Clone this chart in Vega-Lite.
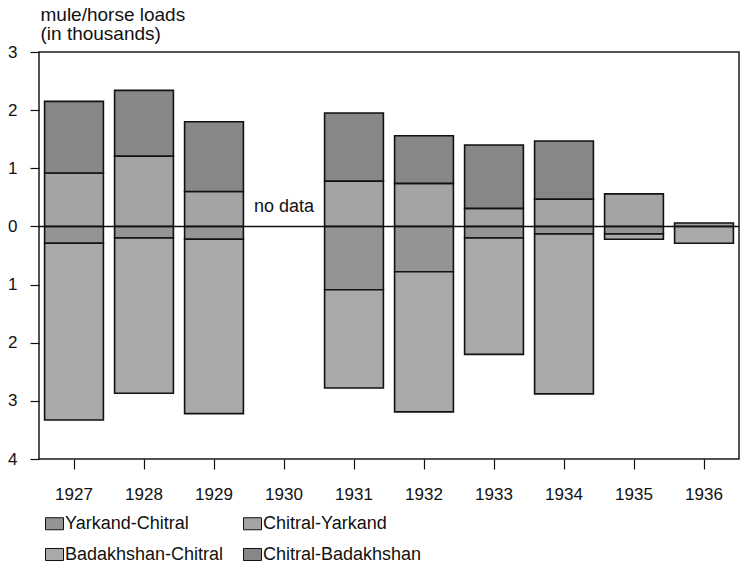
{
  "$schema": "https://vega.github.io/schema/vega-lite/v6.json",
  "width": 700,
  "height": 407,
  "autosize": {"type": "none"},
  "padding": {"left": 39, "top": 52, "right": 2, "bottom": 109},
  "background": "white",
  "config": {
    "font": "Liberation Sans",
    "view": {"stroke": "#1a1a1a", "strokeWidth": 1.5}
  },
  "layer": [
    {
      "data": {
        "values": [
          {"year": "1927", "route": "Chitral-Yarkand", "loads": 0.92},
          {"year": "1927", "route": "Chitral-Badakhshan", "loads": 1.23},
          {"year": "1927", "route": "Yarkand-Chitral", "loads": -0.29},
          {"year": "1927", "route": "Badakhshan-Chitral", "loads": -3.04},
          {"year": "1928", "route": "Chitral-Yarkand", "loads": 1.21},
          {"year": "1928", "route": "Chitral-Badakhshan", "loads": 1.13},
          {"year": "1928", "route": "Yarkand-Chitral", "loads": -0.2},
          {"year": "1928", "route": "Badakhshan-Chitral", "loads": -2.67},
          {"year": "1929", "route": "Chitral-Yarkand", "loads": 0.6},
          {"year": "1929", "route": "Chitral-Badakhshan", "loads": 1.2},
          {"year": "1929", "route": "Yarkand-Chitral", "loads": -0.22},
          {"year": "1929", "route": "Badakhshan-Chitral", "loads": -3.0},
          {"year": "1931", "route": "Chitral-Yarkand", "loads": 0.78},
          {"year": "1931", "route": "Chitral-Badakhshan", "loads": 1.17},
          {"year": "1931", "route": "Yarkand-Chitral", "loads": -1.09},
          {"year": "1931", "route": "Badakhshan-Chitral", "loads": -1.69},
          {"year": "1932", "route": "Chitral-Yarkand", "loads": 0.74},
          {"year": "1932", "route": "Chitral-Badakhshan", "loads": 0.82},
          {"year": "1932", "route": "Yarkand-Chitral", "loads": -0.78},
          {"year": "1932", "route": "Badakhshan-Chitral", "loads": -2.41},
          {"year": "1933", "route": "Chitral-Yarkand", "loads": 0.31},
          {"year": "1933", "route": "Chitral-Badakhshan", "loads": 1.09},
          {"year": "1933", "route": "Yarkand-Chitral", "loads": -0.2},
          {"year": "1933", "route": "Badakhshan-Chitral", "loads": -2.0},
          {"year": "1934", "route": "Chitral-Yarkand", "loads": 0.47},
          {"year": "1934", "route": "Chitral-Badakhshan", "loads": 1.0},
          {"year": "1934", "route": "Yarkand-Chitral", "loads": -0.13},
          {"year": "1934", "route": "Badakhshan-Chitral", "loads": -2.75},
          {"year": "1935", "route": "Chitral-Yarkand", "loads": 0.56},
          {"year": "1935", "route": "Yarkand-Chitral", "loads": -0.13},
          {"year": "1935", "route": "Badakhshan-Chitral", "loads": -0.09},
          {"year": "1936", "route": "Chitral-Yarkand", "loads": 0.06},
          {"year": "1936", "route": "Badakhshan-Chitral", "loads": -0.29}
        ]
      },
      "mark": {"type": "bar", "stroke": "#111", "strokeWidth": 1.6},
      "encoding": {
        "x": {
          "field": "year",
          "type": "ordinal",
          "scale": {
            "domain": ["1927", "1928", "1929", "1930", "1931", "1932", "1933", "1934", "1935", "1936"],
            "paddingInner": 0.16,
            "paddingOuter": 0.08
          },
          "axis": {
            "title": null,
            "labelAngle": 0,
            "labelFontSize": 17,
            "labelColor": "#111",
            "tickSize": 10,
            "tickColor": "#111",
            "tickWidth": 1.2,
            "labelPadding": 17,
            "domain": false,
            "grid": false
          }
        },
        "y": {
          "field": "loads",
          "type": "quantitative",
          "stack": "zero",
          "scale": {"domain": [-4, 3], "nice": false, "zero": false},
          "axis": {
            "values": [-4, -3, -2, -1, 0, 1, 2, 3],
            "labelExpr": "format(abs(datum.value), 'd')",
            "labelFontSize": 17,
            "labelColor": "#111",
            "labelPadding": 13,
            "tickSize": 9,
            "tickColor": "#111",
            "tickWidth": 1.2,
            "domain": false,
            "grid": false,
            "title": ["mule/horse loads", "(in thousands)"],
            "titleAngle": 0,
            "titleAlign": "left",
            "titleBaseline": "alphabetic",
            "titleX": 1,
            "titleY": -32,
            "titleFontSize": 19,
            "titleFontWeight": "normal",
            "titleLineHeight": 19,
            "titleColor": "#111"
          }
        },
        "fill": {
          "field": "route",
          "type": "nominal",
          "scale": {
            "domain": ["Yarkand-Chitral", "Chitral-Yarkand", "Badakhshan-Chitral", "Chitral-Badakhshan"],
            "range": ["#949494", "#a4a4a4", "#a9a9a9", "#878787"]
          },
          "legend": {
            "title": null,
            "orient": "none",
            "legendX": 6,
            "legendY": 462,
            "direction": "horizontal",
            "columns": 2,
            "columnPadding": 17,
            "rowPadding": 12,
            "symbolType": "M-1,-0.67H1V0.67H-1Z",
            "symbolSize": 324,
            "symbolStrokeColor": "#111",
            "symbolStrokeWidth": 1,
            "labelFontSize": 18,
            "labelColor": "#111",
            "labelOffset": 1,
            "labelLimit": 300
          }
        },
        "order": {"field": "route", "sort": "descending"}
      }
    },
    {
      "data": {"values": [{}]},
      "mark": {"type": "rule", "color": "#111", "strokeWidth": 1.5},
      "encoding": {"y": {"datum": 0}}
    },
    {
      "data": {"values": [{"year": "1930", "note": "no data"}]},
      "mark": {"type": "text", "fontSize": 18, "dy": -14, "baseline": "alphabetic", "align": "center", "color": "#111"},
      "encoding": {
        "x": {"field": "year", "type": "ordinal"},
        "y": {"datum": 0},
        "text": {"field": "note"}
      }
    }
  ]
}
